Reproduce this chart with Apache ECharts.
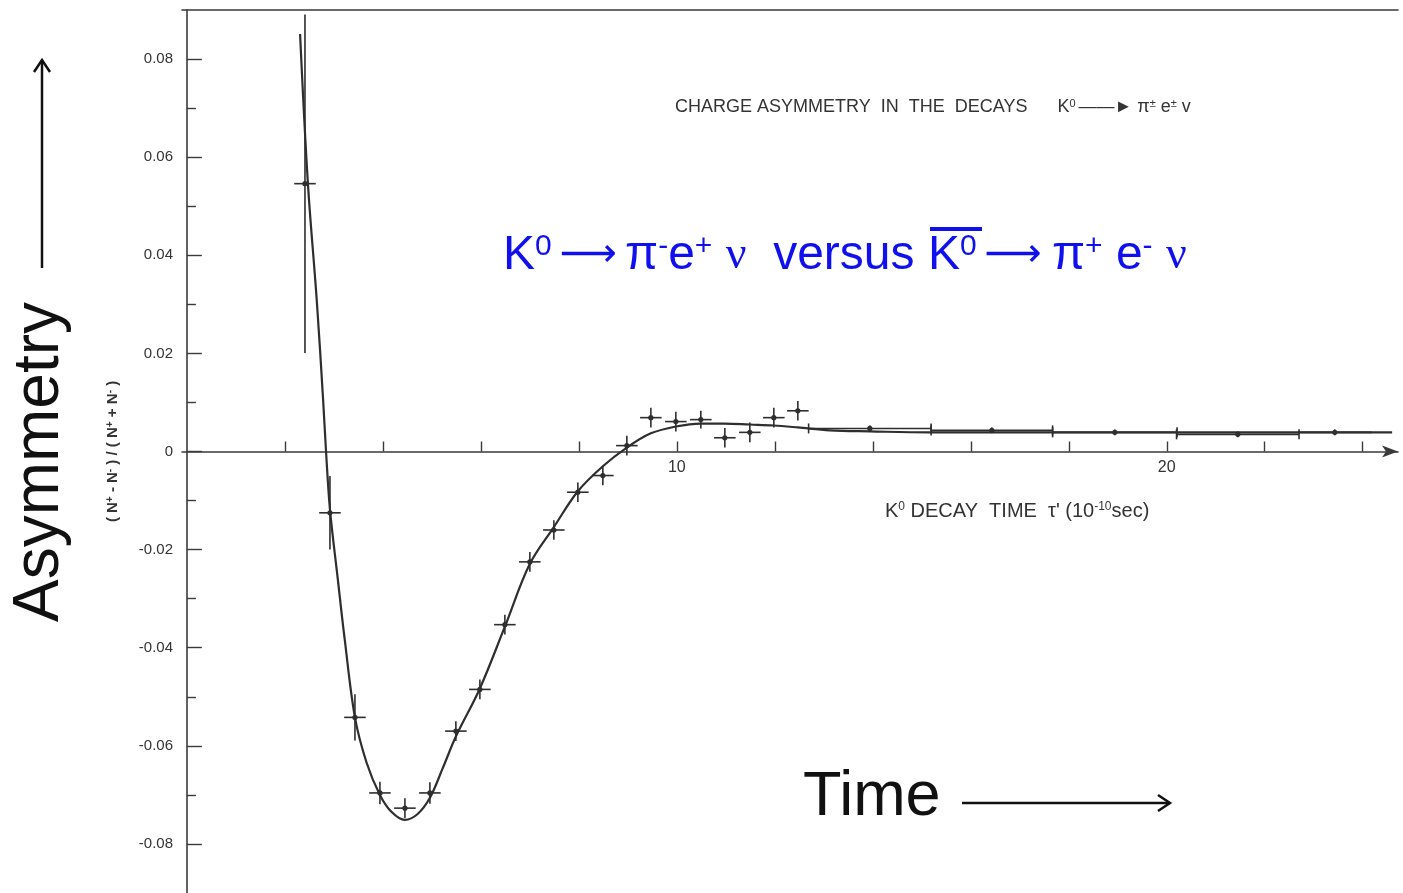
<!DOCTYPE html>
<html>
	<head>
		<meta charset="utf-8">
		<title></title>
		<script src="https://cdn.jsdelivr.net/npm/echarts@6/dist/echarts.min.js"></script>
	</head>
	<body style="margin: 0; overflow: hidden; background: #fff;">
		<div id="main" style="width: 1403px; height: 893px;"></div>
		<script type="text/javascript">
			// measured points (tau' in 1e-10 s, asymmetry)
			var ptX = [2.41, 2.92, 3.43, 3.94, 4.45, 4.96, 5.49, 5.98, 6.49, 7.00, 7.49, 7.98, 8.49, 8.98,
				9.47, 9.98, 10.49, 10.98, 11.49, 11.98, 12.47, 13.94, 16.43, 18.94, 21.45, 23.43];
			var ptY = [0.0546, -0.0125, -0.0542, -0.0696, -0.0727, -0.0696, -0.0570, -0.0485, -0.0353, -0.0225,
				-0.0160, -0.0083, -0.0049, 0.0012, 0.0069, 0.0061, 0.0065, 0.0028, 0.0039, 0.0069, 0.0083,
				0.0047, 0.0043, 0.0039, 0.0035, 0.0039];
			var errX = [0.22, 0.22, 0.22, 0.22, 0.22, 0.22, 0.22, 0.22, 0.22, 0.22, 0.22, 0.22, 0.22, 0.22,
				0.22, 0.22, 0.22, 0.22, 0.22, 0.22, 0.22, 1.25, 1.24, 1.27, 1.25, 0.75];
			var errY = [0.0345, 0.0075, 0.0047, 0.0023, 0.0020, 0.0022, 0.0020, 0.0020, 0.0020, 0.0020,
				0.0020, 0.0020, 0.0020, 0.0020, 0.0020, 0.0020, 0.0018, 0.0020, 0.0020, 0.0020, 0.0020,
				0.0006, 0.0006, 0.0006, 0.0006, 0.0006];

			// fitted curve
			var curveX = [2.31, 2.47, 2.65, 2.78, 2.84, 2.92, 3.08, 3.22, 3.43, 3.67, 3.94, 4.18, 4.45, 4.71,
				4.96, 5.22, 5.49, 5.98, 6.49, 7.00, 7.49, 7.98, 8.49, 8.98, 9.47, 9.98, 10.49, 10.98, 11.49,
				11.98, 12.47, 13.12, 13.94, 15.16, 17.6, 20.7, 24.6];
			var curveY = [0.0851, 0.0546, 0.0309, 0.0106, 0.0, -0.0118, -0.0260, -0.0382, -0.0542, -0.0635,
				-0.0700, -0.0735, -0.0751, -0.0739, -0.0706, -0.0646, -0.0581, -0.0483, -0.0357, -0.0229,
				-0.0154, -0.0081, -0.0030, 0.0008, 0.0037, 0.0051, 0.0057, 0.0057, 0.0055, 0.0053, 0.0049,
				0.0043, 0.0041, 0.0039, 0.0039, 0.0039, 0.0039];

			var yLabelVals = [-0.08, -0.06, -0.04, -0.02, 0, 0.02, 0.04, 0.06, 0.08];
			var yMinorVals = [-0.07, -0.05, -0.03, -0.01, 0.01, 0.03, 0.05, 0.07];
			var xTickVals = [2, 4, 6, 8, 10, 12, 14, 16, 18, 20, 22, 24];
			var xLabelVals = [10, 20];

			var ink = '#3a3a3a';
			var plotFont = '"Liberation Sans", Arial, sans-serif';
			var blue = '#1010ee';

			var points = [];
			for (var i = 0; i < ptX.length; i++) {
				points.push([ptX[i], ptY[i], errX[i], errY[i]]);
			}
			var curve = [];
			for (var j = 0; j < curveX.length; j++) {
				curve.push([curveX[j], curveY[j]]);
			}

			var myChart = echarts.init(document.getElementById('main'));

			var option = {
				animation: false,
				grid: { left: 182, top: 10, right: 5, bottom: 0, outerBoundsMode: 'none', containLabel: false },
				xAxis: [
					{
						type: 'value', min: -0.1, max: 24.72,
						axisLine: { show: true, onZero: true, symbol: ['none', 'arrow'], symbolSize: [9, 16],
							lineStyle: { color: ink, width: 1.6 } },
						axisTick: { show: true, inside: true, length: 10, customValues: xTickVals,
							lineStyle: { color: ink, width: 1.4 } },
						axisLabel: { show: false },
						splitLine: { show: false }
					},
					{
						type: 'value', min: -0.1, max: 24.72, position: 'top',
						axisLine: { show: true, onZero: false, lineStyle: { color: ink, width: 1.6 } },
						axisTick: { show: false }, axisLabel: { show: false }, splitLine: { show: false }
					},
					{
						// labels sitting under the zero line
						type: 'value', min: -0.1, max: 24.72, position: 'bottom', offset: -441.5,
						axisLine: { show: false, onZero: false }, axisTick: { show: false },
						axisLabel: { customValues: xLabelVals, margin: 8, color: '#333', fontSize: 16,
							fontFamily: plotFont },
						splitLine: { show: false }
					}
				],
				yAxis: [
					{
						type: 'value', min: -0.09, max: 0.09,
						name: '( N{s|+} - N{s|-} ) / ( N{s|+} + N{s|-} )',
						nameLocation: 'middle', nameRotate: 90, nameGap: 62,
						nameTextStyle: { color: '#333', fontSize: 15, fontWeight: 'bold', fontFamily: plotFont,
							rich: { s: { fontSize: 10, verticalAlign: 'top', color: '#333', fontWeight: 'bold' } } },
						axisLine: { show: true, lineStyle: { color: ink, width: 1.6 } },
						axisTick: { show: true, inside: true, length: 15, customValues: yLabelVals,
							lineStyle: { color: ink, width: 1.4 } },
						axisLabel: {
							customValues: yLabelVals, margin: 9, color: '#333', fontSize: 15, fontFamily: plotFont,
							formatter: function (v) {
								return Math.abs(v) < 1e-9 ? '0' : v.toFixed(2);
							}
						},
						splitLine: { show: false }
					},
					{
						type: 'value', min: -0.09, max: 0.09, position: 'left',
						axisLine: { show: false },
						axisTick: { show: true, inside: true, length: 9, customValues: yMinorVals,
							lineStyle: { color: ink, width: 1.4 } },
						axisLabel: { show: false }, splitLine: { show: false }
					}
				],
				series: [
					{
						type: 'line', data: curve, smooth: 0.35, showSymbol: false,
						lineStyle: { color: '#2e2e2e', width: 2.2 }, z: 3
					},
					{
						type: 'custom', data: points, z: 4,
						renderItem: function (params, api) {
							var x = api.value(0), y = api.value(1), ex = api.value(2), ey = api.value(3);
							var l = api.coord([x - ex, y]), r = api.coord([x + ex, y]);
							var t = api.coord([x, y + ey]), b = api.coord([x, y - ey]);
							var c = api.coord([x, y]);
							var st = { stroke: '#2e2e2e', lineWidth: 1.6 };
							var kids = [
								{ type: 'line', shape: { x1: l[0], y1: l[1], x2: r[0], y2: r[1] }, style: st },
								{ type: 'line', shape: { x1: t[0], y1: t[1], x2: b[0], y2: b[1] }, style: st },
								{ type: 'circle', shape: { cx: c[0], cy: c[1], r: 2.6 }, style: { fill: '#2e2e2e' } }
							];
							if (ex > 1) {
								kids.push({ type: 'line', shape: { x1: l[0], y1: l[1] - 5, x2: l[0], y2: l[1] + 5 }, style: st });
								kids.push({ type: 'line', shape: { x1: r[0], y1: r[1] - 5, x2: r[0], y2: r[1] + 5 }, style: st });
							}
							return { type: 'group', children: kids };
						}
					}
				],
				graphic: [
					{
						type: 'text', left: 675, top: 98,
						style: {
							text: 'CHARGE ASYMMETRY  IN  THE  DECAYS      K{s|0}{a|——►}π{s|±} e{s|±} v',
							fill: '#333', fontSize: 18, fontFamily: plotFont,
							rich: { s: { fontSize: 11, verticalAlign: 'top', fill: '#333' },
								a: { fontSize: 18, fill: '#333', padding: [0, 5, 0, 3] } }
						}
					},
					{
						type: 'text', left: 885, top: 501,
						style: {
							text: 'K{s|0} DECAY  TIME  τ\' (10{s|-10}sec)',
							fill: '#333', fontSize: 20, fontFamily: plotFont,
							rich: { s: { fontSize: 12, verticalAlign: 'top', fill: '#333' } }
						}
					},
					{
						type: 'text', left: 503, top: 232,
						style: {
							text: 'K{s|0}{a|⟶}π{s|-}e{s|+} {n|ν}  versus K{s|0}{b|⟶}π{s|+} e{s|-} {n|ν}',
							fill: blue, fontSize: 48, fontFamily: '"Liberation Sans", Arial, sans-serif',
							rich: {
								s: { fontSize: 30, verticalAlign: 'top', fill: blue, fontFamily: '"Liberation Sans", Arial, sans-serif' },
								a: { fontSize: 40, fill: blue, fontFamily: '"DejaVu Sans", sans-serif', padding: [0, 8, 0, 8] },
								b: { fontSize: 40, fill: blue, fontFamily: '"DejaVu Sans", sans-serif', padding: [0, 10, 0, 8] },
								n: { fontSize: 46, fill: blue, fontFamily: '"Liberation Serif", serif' }
							}
						}
					},
					{
						type: 'line', shape: { x1: 930, y1: 229, x2: 982, y2: 229 },
						style: { stroke: blue, lineWidth: 4 }
					},
					{
						type: 'text', x: 40, y: 462, rotation: Math.PI / 2,
						style: {
							text: 'Asymmetry', fill: '#111', fontSize: 64, align: 'center', verticalAlign: 'middle',
							fontFamily: '"Liberation Sans", Arial, sans-serif'
						}
					},
					{
						type: 'line', shape: { x1: 42, y1: 268, x2: 42, y2: 60 },
						style: { stroke: '#111', lineWidth: 2.5 }
					},
					{
						type: 'polyline', shape: { points: [[34, 72], [42, 60], [50, 72]] },
						style: { stroke: '#111', lineWidth: 2.5, fill: null }
					},
					{
						type: 'text', left: 803, top: 766,
						style: {
							text: 'Time', fill: '#111', fontSize: 63,
							fontFamily: '"Liberation Sans", Arial, sans-serif'
						}
					},
					{
						type: 'line', shape: { x1: 962, y1: 803, x2: 1170, y2: 803 },
						style: { stroke: '#111', lineWidth: 2.5 }
					},
					{
						type: 'polyline', shape: { points: [[1158, 795], [1170, 803], [1158, 811]] },
						style: { stroke: '#111', lineWidth: 2.5, fill: null }
					}
				]
			};
			myChart.setOption(option);
		</script>
	</body>
</html>
